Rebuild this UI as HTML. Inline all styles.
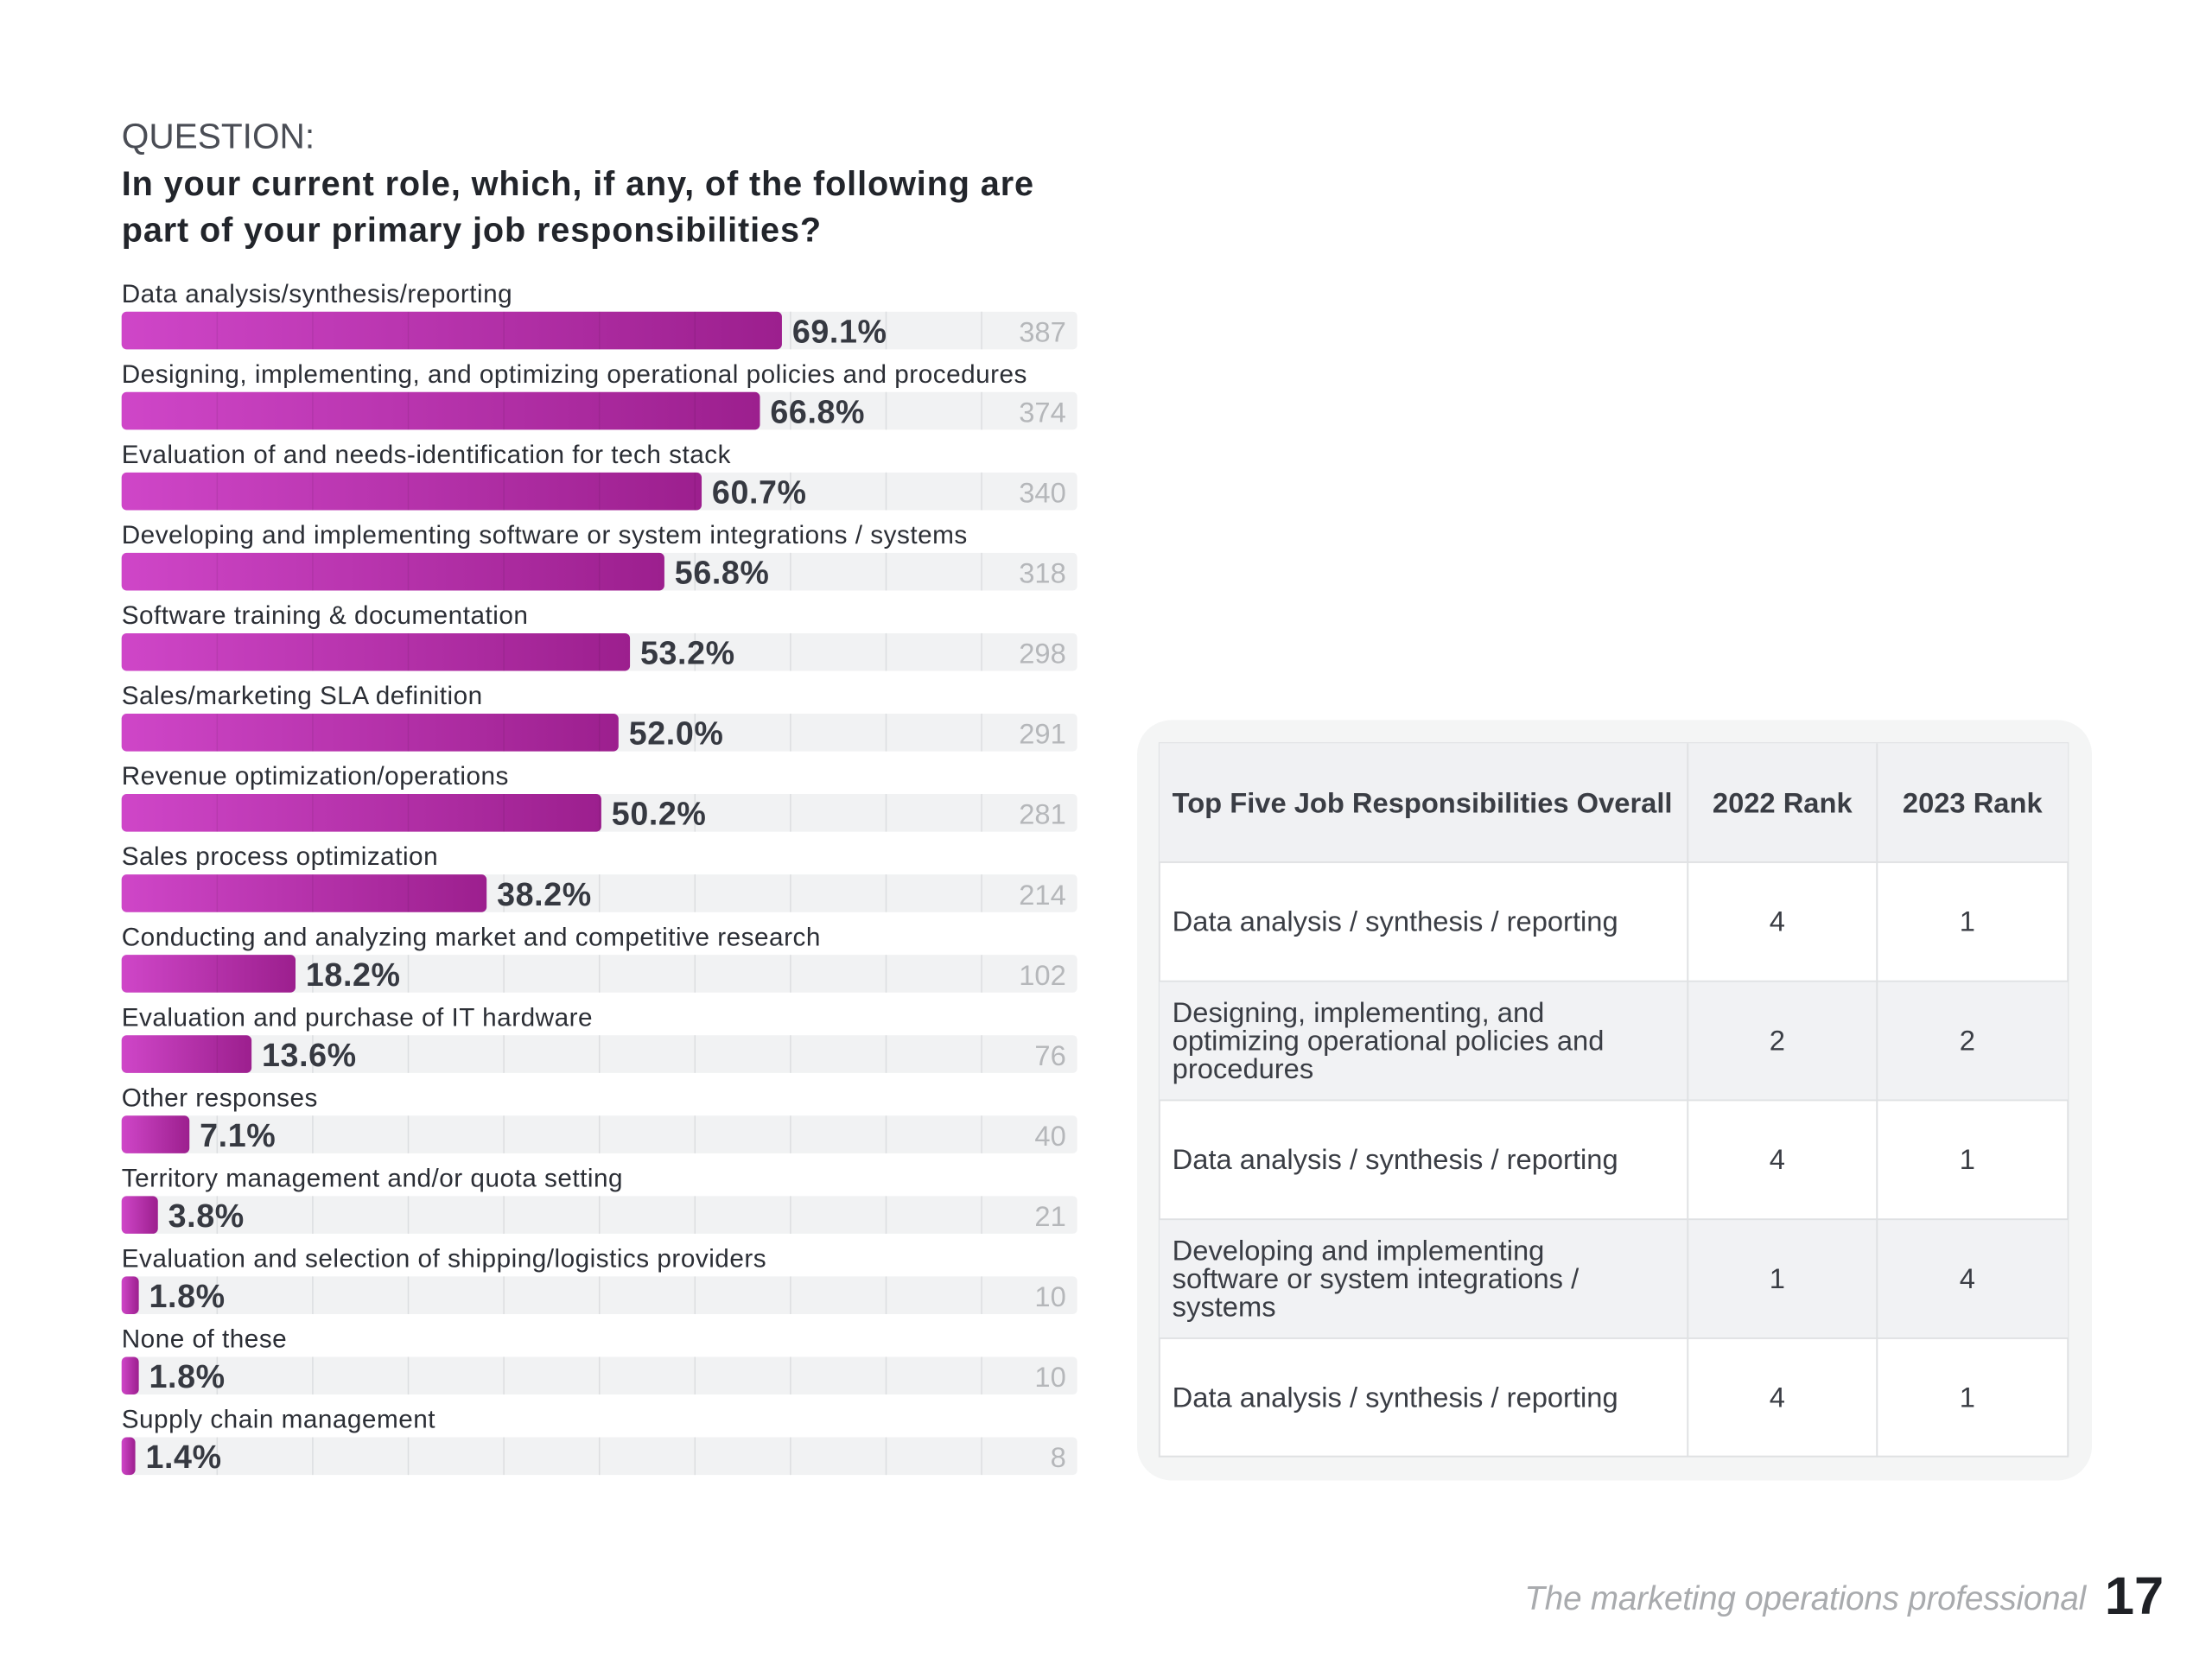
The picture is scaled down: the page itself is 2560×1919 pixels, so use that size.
<!DOCTYPE html>
<html><head><meta charset="utf-8"><style>
html,body{margin:0;padding:0;background:#fff;}
body{width:2560px;height:1919px;overflow:hidden;position:relative;font-family:"Liberation Sans",sans-serif;}
svg{position:absolute;left:0;top:0;}
</style></head><body>
<svg id="chart" width="2560" height="1919" viewBox="0 0 2560 1919" xmlns="http://www.w3.org/2000/svg">
<defs>
<linearGradient id="barGrad" x1="0" x2="1" y1="0" y2="0">
<stop offset="0" stop-color="#cf46c8"/><stop offset="1" stop-color="#9c1f8e"/>
</linearGradient>
</defs>
<g transform="scale(0.991)">
<text x="142" y="173" font-size="41" fill="#4a4d55">QUESTION:</text>
<text x="142" y="228" font-size="40" font-weight="bold" fill="#22252b" letter-spacing="0.9">In your current role, which, if any, of the following are</text>
<text x="142" y="282" font-size="40" font-weight="bold" fill="#22252b" letter-spacing="0.9">part of your primary job responsibilities?</text>
<g id="bars"></g>

<g>
<rect x="1328" y="841" width="1115" height="888" rx="40" fill="#f4f5f5"/>
<rect x="1354" y="868" width="1061" height="833" fill="#fff" stroke="#dfe1e3" stroke-width="2"/>
<g id="tbl"></g>
</g>

<text x="2436" y="1880" font-size="39" font-style="italic" fill="#a9abae" text-anchor="end" letter-spacing="-0.2">The marketing operations professional</text>
<text x="2458" y="1885" font-size="62" font-weight="bold" fill="#1f2126">17</text>
</g>
</svg>
<script>
const categories = ["Data analysis/synthesis/reporting","Designing, implementing, and optimizing operational policies and procedures","Evaluation of and needs-identification for tech stack","Developing and implementing software or system integrations / systems","Software training & documentation","Sales/marketing SLA definition","Revenue optimization/operations","Sales process optimization","Conducting and analyzing market and competitive research","Evaluation and purchase of IT hardware","Other responses","Territory management and/or quota setting","Evaluation and selection of shipping/logistics providers","None of these","Supply chain management"];
const percents = [69.1,66.8,60.7,56.8,53.2,52.0,50.2,38.2,18.2,13.6,7.1,3.8,1.8,1.8,1.4];
const counts = [387,374,340,318,298,291,281,214,102,76,40,21,10,10,8];
const gridTicks = [10,20,30,40,50,60,70,80,90];
const tableHeader = ["Top Five Job Responsibilities Overall","2022 Rank","2023 Rank"];
const tableRows = [["Data analysis / synthesis / reporting",4,1],["Designing, implementing, and|optimizing operational policies and|procedures",2,2],["Data analysis / synthesis / reporting",4,1],["Developing and implementing|software or system integrations /|systems",1,4],["Data analysis / synthesis / reporting",4,1]];

const NS="http://www.w3.org/2000/svg";
const X0=142, W=1116, ROW0=343, STEP=93.9, BH=44;
const xs = v => X0 + v/100*W;
function mk(tag, attrs, parent, txt){const e=document.createElementNS(NS,tag);for(const k in attrs)e.setAttribute(k,attrs[k]);if(txt!==undefined)e.textContent=txt;parent.appendChild(e);return e;}
const g=document.getElementById('bars');
categories.forEach((c,i)=>{
  const cy=ROW0+i*STEP, by=cy+21;
  const lab=mk('text',{x:X0,y:cy+10,'font-size':30,fill:'#2b2e35','letter-spacing':0.5},g,c);
  
  
  const tr=mk('rect',{x:X0,y:by,width:W,height:BH,rx:5,fill:'#f1f2f3'},g);
  
  
  const bw=Math.max(xs(percents[i])-X0,16);
  const b=mk('rect',{x:X0,y:by,width:bw,height:BH,rx:6,fill:'url(#barGrad)'},g);
  
  
  gridTicks.forEach(t=>{const x=xs(t);const col=x<X0+bw?'rgba(0,0,0,0.07)':'#dcdee0';mk('line',{x1:x,x2:x,y1:by,y2:by+BH,stroke:col,'stroke-width':1.5},g);});
  const pl=mk('text',{x:X0+bw+12,y:by+36,'font-size':38,'font-weight':'bold',fill:'#363941','letter-spacing':0.6},g,percents[i].toFixed(1)+'%');
  
  
  const cl=mk('text',{x:1245,y:by+35,'font-size':33,fill:'#b5b7ba','text-anchor':'end'},g,String(counts[i]));
  
  
});
const tg=document.getElementById('tbl');
const cols=[1354,1971,2192,2415], RH=139, TY=868;
mk('rect',{x:1354,y:TY,width:1061,height:RH,fill:'#f0f1f3'},tg);
tableRows.forEach((r,i)=>{ if(i%2===1) mk('rect',{x:1354,y:TY+RH*(i+1),width:1061,height:RH,fill:'#f1f2f4'},tg); });
for(let i=1;i<=5;i++) mk('line',{x1:1354,x2:2415,y1:TY+RH*i,y2:TY+RH*i,stroke:'#dfe1e3','stroke-width':2},tg);
[1971,2192].forEach(x=>mk('line',{x1:x,x2:x,y1:TY,y2:TY+RH*6,stroke:'#dfe1e3','stroke-width':2},tg));
tableHeader.forEach((h,j)=>{
  const t=j===0?mk('text',{x:1369,y:TY+81,'font-size':33,'font-weight':'bold',fill:'#3a3d44'},tg,h):mk('text',{x:(cols[j]+cols[j+1])/2,y:TY+81,'font-size':33,'font-weight':'bold',fill:'#3a3d44','text-anchor':'middle'},tg,h);
  
  
});
tableRows.forEach((r,i)=>{
  const top=TY+RH*(i+1), mid=top+RH/2;
  const lines=r[0].split('|');
  lines.forEach((ln,k)=>{
    const y=mid+11+(k-(lines.length-1)/2)*33;
    const t=mk('text',{x:1369,y:y,'font-size':33,fill:'#3a3d44'},tg,ln);
    
    
  });
  [1,2].forEach(j=>{
    const t=mk('text',{x:(cols[j]+cols[j+1])/2-6,y:mid+11,'font-size':33,fill:'#3a3d44','text-anchor':'middle'},tg,String(r[j]));
    
    
  });
});
</script>
</body></html>
